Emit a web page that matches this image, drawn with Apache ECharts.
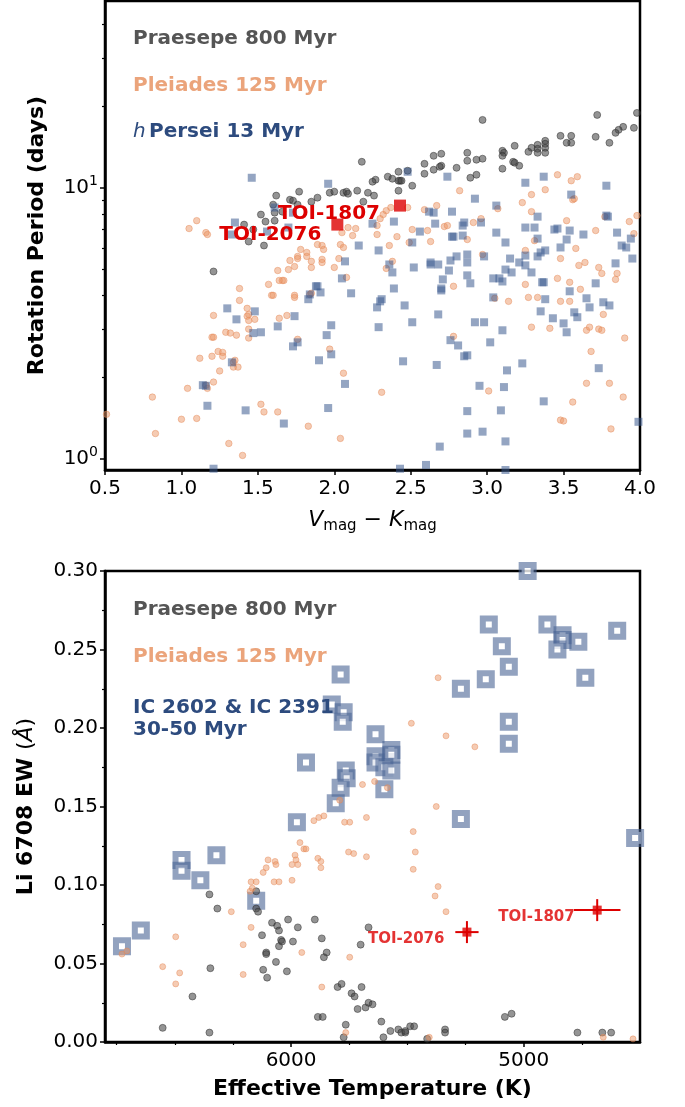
<!DOCTYPE html>
<html><head><meta charset="utf-8">
<script src="https://cdn.jsdelivr.net/npm/echarts@6/dist/echarts.min.js"></script>
<style>html,body{margin:0;padding:0;background:#fff}#c{width:685px;height:1107px}</style>
</head><body><div id="c"></div>
<script>
// ---------- Top panel: rotation period vs V-K ----------
const praesepeTop = [[2.18,12.46],[1.62,9.35],[1.77,9.67],[1.71,9.03],[1.73,8.96],[1.85,8.88],[1.89,9.19],[1.97,9.58],[2.00,9.67],[2.06,9.58],[2.08,9.67],[2.09,9.50],[2.15,9.75],[2.22,9.58],[1.60,8.66],[1.76,8.66],[1.52,7.96],[1.61,8.09],[1.66,8.16],[1.61,7.56],[1.55,7.50],[1.41,7.31],[1.47,7.01],[2.19,8.88],
[2.97,17.78],[3.72,18.55],[3.98,18.87],[3.89,16.76],[3.86,16.34],[3.84,15.93],[3.96,16.62],[3.71,15.40],[3.80,14.64],[3.48,15.53],[3.55,15.53],[3.55,14.64],[3.52,14.64],[3.38,14.89],[3.38,14.52],[3.38,14.03],[3.38,13.45],[3.33,14.39],[3.33,13.91],[3.29,14.03],[3.27,13.56],[3.33,13.45],[3.18,14.27],[3.10,13.68],[3.11,13.45],[3.10,13.11],[3.17,12.46],[3.18,12.36],[3.21,12.05],[3.10,11.75],[2.97,12.79],[2.93,12.68],[2.87,12.57],[2.87,13.45],[2.70,13.34],[2.65,13.11],[2.70,12.05],[2.69,11.94],[2.65,11.65],[2.59,12.25],[2.59,11.26],[2.80,11.84],[2.93,11.16],[2.89,10.88],[2.51,10.17],[2.42,11.45],[2.43,10.61],[2.42,10.61],[2.44,10.61],[2.35,10.98],[2.38,10.79],[2.27,10.70],[2.25,10.52],[2.48,11.55],[2.42,9.75],[2.26,9.35],[1.44,6.33],[1.54,6.12],[1.21,4.91]];
const pleiadesTop = [[1.10,7.56],[1.05,7.07],[1.16,6.83],[2.09,7.13],[2.14,7.07],[2.12,6.66],[2.05,6.83],[2.82,9.75],[3.46,11.16],[3.55,10.61],[3.59,10.98],[3.38,9.83],[3.29,9.43],[3.23,8.81],[3.56,9.03],[3.57,9.11],[2.67,8.59],[2.59,8.30],[3.07,8.37],[3.29,8.16],[2.96,7.69],[2.91,7.44],[3.52,7.56],[3.77,7.82],[3.93,7.50],[3.98,7.89],[2.51,7.01],[2.61,6.95],[2.72,7.19],[2.74,7.25],[3.71,6.95],[2.41,6.60],[2.28,6.72],[2.48,8.45],[2.37,8.45],[2.34,8.23],[2.32,7.96],[2.30,7.69],[2.28,7.25],[1.17,6.72],[2.04,6.17],[2.06,6.02],[1.89,6.17],[1.92,6.12],[1.93,5.92],[1.78,5.92],[1.76,5.58],[1.76,5.48],[1.82,5.77],[1.82,5.58],[1.71,5.39],[1.74,5.12],[1.70,4.99],[1.85,5.35],[1.85,5.08],[1.92,5.44],[1.92,5.30],[2.03,5.48],[2.00,5.08],[1.63,4.95],[1.64,4.55],[1.66,4.55],[1.67,4.55],[1.57,4.40],[1.38,4.25],[1.59,4.01],[1.60,4.01],[1.74,4.01],[1.74,3.94],[1.85,4.08],[1.84,4.04],[1.38,3.84],[1.43,3.59],[1.44,3.41],[1.43,3.36],[1.48,3.27],[1.44,3.24],[1.21,3.38],[1.64,3.30],[1.69,3.38],[1.44,3.01],[1.29,2.93],[1.32,2.91],[1.36,2.86],[1.20,2.81],[1.21,2.81],[1.44,2.79],[1.76,2.76],[1.97,2.54],[2.08,4.67],[1.12,2.35],[1.24,2.49],[1.27,2.47],[1.27,2.39],[1.20,2.39],[1.35,2.31],[1.34,2.27],[1.34,2.18],[1.37,2.18],[1.25,2.11],[2.06,2.07],[1.21,1.92],[1.04,1.82],[1.16,1.87],[1.17,1.82],[0.81,1.69],[1.52,1.59],[1.54,1.49],[1.63,1.49],[1.00,1.40],[1.10,1.41],[0.51,1.46],[0.83,1.24],[1.83,1.32],[1.31,1.14],[2.04,1.19],[1.40,1.03],[2.49,6.28],[2.63,6.33],[2.36,6.12],[2.87,6.44],[3.31,6.38],[3.96,6.77],[2.38,5.35],[2.34,5.04],[2.97,5.67],[3.25,5.87],[3.48,5.48],[3.58,5.97],[3.60,5.17],[3.64,5.30],[3.73,5.08],[3.75,4.83],[3.85,4.83],[3.84,4.59],[2.78,4.33],[3.14,3.81],[3.25,4.40],[3.27,3.94],[3.33,3.94],[3.46,4.63],[3.54,4.48],[3.61,4.22],[3.48,3.81],[3.54,3.81],[3.05,3.91],[3.76,3.41],[3.29,3.06],[3.41,3.03],[3.65,2.98],[3.67,3.06],[3.73,3.01],[3.75,2.98],[3.90,2.79],[2.78,2.83],[3.68,2.49],[2.31,1.76],[3.01,1.78],[3.65,1.90],[3.80,1.90],[3.89,1.69],[3.56,1.62],[3.48,1.39],[3.50,1.38],[3.81,1.29]];
const hPerseiTop = [[1.46,10.88],[1.96,10.34],[1.61,8.45],[1.35,7.44],[1.33,6.72],[1.56,6.89],[1.70,7.13],[1.73,8.09],[2.48,11.45],[2.74,10.98],[3.25,10.43],[3.37,10.98],[3.78,10.17],[3.55,9.43],[2.92,9.11],[3.06,8.59],[2.77,8.16],[2.62,8.16],[2.65,8.09],[3.33,7.82],[3.78,7.89],[3.79,7.82],[2.39,7.50],[2.66,7.37],[2.85,7.44],[2.84,7.25],[2.96,7.44],[2.56,6.89],[3.06,6.83],[3.25,7.13],[3.31,7.13],[3.44,7.01],[3.46,7.07],[3.54,6.95],[3.63,6.72],[3.85,6.83],[2.77,6.60],[2.78,6.60],[2.84,6.66],[2.25,7.37],[2.16,6.12],[2.07,5.35],[2.05,4.63],[2.11,4.08],[1.88,4.33],[1.89,4.33],[1.91,4.11],[1.84,4.04],[1.83,3.88],[1.30,3.59],[1.48,3.50],[1.36,3.27],[1.74,3.36],[1.63,3.08],[1.98,3.11],[1.95,2.86],[1.52,2.93],[1.47,2.91],[1.76,2.69],[1.73,2.60],[1.98,2.43],[1.90,2.31],[1.33,2.27],[1.14,1.87],[1.16,1.86],[2.07,1.89],[1.17,1.57],[1.42,1.51],[1.96,1.54],[1.67,1.35],[1.21,0.92],[3.12,6.28],[2.29,5.87],[2.51,6.28],[2.36,5.21],[2.38,4.87],[2.52,5.08],[2.63,5.30],[2.63,5.21],[2.68,5.21],[2.76,5.39],[2.80,5.58],[2.75,4.95],[2.87,5.67],[2.87,5.30],[2.98,5.58],[2.71,4.59],[2.87,4.75],[2.89,4.44],[2.39,4.25],[2.70,4.25],[2.70,4.18],[3.04,4.63],[3.08,4.63],[3.10,4.51],[3.12,4.99],[3.16,4.87],[3.15,5.48],[3.21,5.30],[3.25,5.17],[3.25,5.62],[3.33,5.58],[3.35,5.77],[3.38,5.87],[3.33,6.49],[3.29,4.87],[3.37,4.48],[3.36,4.48],[3.52,6.44],[3.48,6.02],[3.94,6.49],[3.88,6.12],[3.91,6.02],[3.95,5.48],[3.84,5.26],[3.71,4.44],[3.54,4.15],[3.65,3.91],[3.38,3.88],[3.76,3.78],[3.80,3.68],[3.67,3.62],[3.57,3.47],[3.59,3.33],[3.43,3.30],[3.35,3.50],[3.50,3.16],[3.52,2.93],[2.31,3.88],[2.30,3.81],[2.28,3.62],[2.46,3.68],[2.29,3.06],[2.51,3.19],[2.68,3.41],[2.92,3.19],[2.98,3.19],[3.04,3.94],[3.10,2.98],[2.76,2.74],[2.81,2.62],[3.02,2.69],[2.85,2.39],[2.87,2.41],[2.45,2.29],[2.67,2.22],[3.13,2.12],[3.23,2.25],[2.95,1.86],[3.11,1.84],[3.37,1.63],[3.73,2.16],[2.87,1.50],[3.09,1.51],[2.87,1.24],[2.97,1.26],[3.12,1.16],[2.69,1.11],[2.60,0.95],[2.43,0.92],[3.12,0.91],[3.99,1.37]];
const toiNames = ['TOI-1807','TOI-2076'];
const toiVK = [2.43, 2.02];
const toiPeriod = [8.59, 7.31];
const periodMajor = [1,10];
const periodMinor = [2,3,4,5,6,7,8,9,20,30,40];

// ---------- Bottom panel: Li EW vs Teff ----------
const icLi = [[5787,0.234],[5825,0.215],[5774,0.210],[5778,0.204],[5936,0.178],[5765,0.173],[5761,0.168],[5787,0.162],[5808,0.152],[4983,0.300],[5150,0.266],[4898,0.266],[4833,0.259],[4833,0.256],[4855,0.250],[4765,0.255],[4598,0.262],[5094,0.252],[5064,0.239],[5163,0.231],[5270,0.225],[4735,0.232],[5064,0.204],[5064,0.190],[5637,0.196],[5569,0.186],[5569,0.183],[5637,0.182],[5637,0.178],[5599,0.175],[5569,0.173],[5599,0.161],[5975,0.140],[6321,0.119],[6471,0.116],[6471,0.109],[6390,0.103],[6150,0.090],[6646,0.071],[6727,0.061],[5270,0.142],[4521,0.130]];
const pleiadesLi = [[5693,0.164],[5791,0.154],[5368,0.232],[5483,0.203],[5334,0.195],[5210,0.188],[5641,0.166],[5586,0.162],[5376,0.150],[5902,0.141],[5881,0.143],[5859,0.144],[5770,0.140],[5748,0.140],[5676,0.143],[5962,0.127],[5945,0.123],[5936,0.123],[5983,0.119],[5979,0.116],[5971,0.113],[5996,0.113],[6099,0.116],[6107,0.111],[6120,0.108],[6069,0.115],[6065,0.113],[5885,0.117],[5872,0.115],[5872,0.111],[5753,0.121],[5731,0.120],[5676,0.118],[5996,0.103],[6073,0.102],[6052,0.102],[6172,0.102],[6150,0.102],[6176,0.096],[6167,0.098],[6257,0.083],[6172,0.073],[6496,0.067],[6206,0.062],[5954,0.057],[5748,0.054],[6706,0.058],[6727,0.056],[6552,0.048],[6479,0.044],[6496,0.037],[6206,0.043],[5868,0.035],[5765,0.006],[5475,0.134],[5466,0.121],[5475,0.110],[5368,0.099],[5381,0.093],[5334,0.083],[5406,0.003],[4658,0.003],[4530,0.002]];
const praesepeLi = [[6150,0.096],[6351,0.094],[6317,0.085],[6150,0.085],[6142,0.083],[6082,0.076],[6060,0.074],[6052,0.071],[6013,0.078],[5971,0.073],[5898,0.078],[6125,0.068],[6043,0.065],[6052,0.061],[6039,0.064],[5992,0.064],[5868,0.066],[6107,0.057],[6107,0.056],[5847,0.057],[5859,0.054],[6065,0.051],[6347,0.047],[6120,0.046],[6103,0.041],[6018,0.045],[5701,0.062],[5667,0.073],[5800,0.035],[5783,0.037],[5697,0.035],[6424,0.029],[5740,0.031],[5727,0.029],[5714,0.021],[5680,0.022],[5667,0.025],[5885,0.016],[5864,0.016],[5765,0.011],[5774,0.003],[6552,0.009],[6351,0.006],[5650,0.024],[5612,0.013],[5573,0.007],[5539,0.008],[5526,0.006],[5509,0.006],[5509,0.007],[5488,0.010],[5471,0.010],[5603,0.003],[5415,0.002],[5338,0.008],[5338,0.006],[5081,0.016],[5052,0.018],[4769,0.006],[4662,0.006],[4624,0.006]];
const toiTeff = [4684, 5244];
const toiTeffErr = [100, 50];
const toiEW = [0.084, 0.070];
const toiEWErr = [0.007, 0.007];
const teffMajor = [5000, 6000];
const teffMinor = [4750, 5250, 5500, 5750, 6250, 6500, 6750];

// ---------- styles ----------
const F = 'DejaVu Sans';
const RED = '#DD0000';
const GRAY = 'rgba(70,70,70,0.72)';
const GRAY_E = 'rgba(40,40,40,0.75)';
const ORANGE = 'rgba(234,150,102,0.62)';
const ORANGE_E = 'rgba(228,135,85,0.7)';
const BLUE = 'rgba(58,88,142,0.68)';
const tickLbl = {fontFamily: F, fontSize: 20, color: '#000'};
const lineS = {show: true, lineStyle: {color: '#000', width: 2.5}};
const noBorder = {textBorderWidth: 0, textBorderColor: 'transparent', textShadowBlur: 0};

const chart = echarts.init(document.getElementById('c'), null, {renderer: 'canvas'});
const option = {
  animation: false,
  backgroundColor: '#fff',
  grid: [
    {left: 105, top: 1, width: 535, height: 469, show: true, borderColor: '#000', borderWidth: 2.5, backgroundColor: 'transparent'},
    {left: 105, top: 571, width: 535, height: 471, show: true, borderColor: '#000', borderWidth: 2.5, backgroundColor: 'transparent'}
  ],
  xAxis: [
    {gridIndex: 0, type: 'value', position: 'bottom', min: 0.5, max: 4, interval: 0.5,
     axisLine: lineS, splitLine: {show: false},
     axisTick: {length: 5, lineStyle: {color: '#000', width: 1.5}},
     axisLabel: Object.assign({margin: 9, formatter: v => v.toFixed(1)}, tickLbl),
     name: '{i|V}{s|mag}{n| − }{i|K}{s|mag}', nameLocation: 'middle', nameGap: 37,
     nameTextStyle: {rich: {
       i: {fontFamily: F, fontStyle: 'italic', fontSize: 22, color: '#000'},
       n: {fontFamily: F, fontSize: 22, color: '#000'},
       s: {fontFamily: F, fontSize: 15, color: '#000', padding: [12, 0, 0, 0]}}}},
    {gridIndex: 1, type: 'value', position: 'bottom', inverse: true, min: 4500, max: 6800,
     axisLine: lineS, splitLine: {show: false},
     axisTick: {customValues: teffMajor, length: 5, lineStyle: {color: '#000', width: 1.5}},
     axisLabel: Object.assign({customValues: teffMajor, margin: 9, formatter: v => String(Math.round(v))}, tickLbl),
     name: 'Effective Temperature (K)', nameLocation: 'middle', nameGap: 36,
     nameTextStyle: {fontFamily: F, fontWeight: 'bold', fontSize: 22, color: '#000'}},
    {gridIndex: 1, type: 'value', position: 'bottom', inverse: true, min: 4500, max: 6800,
     axisLine: {show: false}, splitLine: {show: false},
     axisTick: {customValues: teffMinor, length: 3, lineStyle: {color: '#000', width: 1.2}},
     axisLabel: {show: false}}
  ],
  yAxis: [
    {gridIndex: 0, type: 'log', logBase: 10, position: 'left', min: 0.91, max: 48.8,
     axisLine: lineS, splitLine: {show: false}, minorTick: {show: false},
     axisTick: {customValues: periodMajor, length: 5, lineStyle: {color: '#000', width: 1.5}},
     axisLabel: Object.assign({customValues: periodMajor, margin: 7,
       formatter: v => '10{s|' + Math.round(Math.log10(v)) + '}',
       rich: {s: {fontFamily: F, fontSize: 14, color: '#000', padding: [0, 0, 13, 0]}}}, tickLbl),
     name: 'Rotation Period (days)', nameLocation: 'middle', nameGap: 57,
     nameTextStyle: {fontFamily: F, fontWeight: 'bold', fontSize: 22, color: '#000'}},
    {gridIndex: 0, type: 'log', logBase: 10, position: 'left', min: 0.91, max: 48.8,
     axisLine: {show: false}, splitLine: {show: false},
     axisTick: {customValues: periodMinor, length: 3, lineStyle: {color: '#000', width: 1.2}},
     axisLabel: {show: false}},
    {gridIndex: 1, type: 'value', position: 'left', min: 0, max: 0.3, interval: 0.05,
     axisLine: lineS, splitLine: {show: false},
     axisTick: {length: 5, lineStyle: {color: '#000', width: 1.5}},
     minorTick: {show: true, splitNumber: 2, length: 3, lineStyle: {color: '#000', width: 1.2}},
     axisLabel: Object.assign({margin: 7, formatter: v => v.toFixed(2)}, tickLbl),
     name: '{b|Li 6708 EW }{n|(}{a|Å}{n|)}', nameLocation: 'middle', nameGap: 68,
     nameTextStyle: {rich: {
       b: {fontFamily: F, fontWeight: 'bold', fontSize: 22, color: '#000'},
       n: {fontFamily: F, fontSize: 22, color: '#000'},
       a: {fontFamily: F, fontStyle: 'italic', fontSize: 22, color: '#000'}}}}
  ],
  series: [
    {type: 'scatter', xAxisIndex: 0, yAxisIndex: 0, data: praesepeTop, symbol: 'circle', symbolSize: 7,
     itemStyle: {color: GRAY, borderColor: GRAY_E, borderWidth: 0.8}},
    {type: 'scatter', xAxisIndex: 0, yAxisIndex: 0, data: pleiadesTop, symbol: 'circle', symbolSize: 6.5,
     itemStyle: {color: ORANGE, borderColor: ORANGE_E, borderWidth: 0.8}},
    {type: 'scatter', xAxisIndex: 0, yAxisIndex: 0, data: hPerseiTop, symbol: 'rect', symbolSize: 8,
     itemStyle: {color: BLUE}},
    {type: 'scatter', xAxisIndex: 0, yAxisIndex: 0, symbol: 'rect', symbolSize: 12, z: 10, zlevel: 1,
     itemStyle: {color: RED},
     data: toiNames.map((n, i) => ({name: n, value: [toiVK[i], toiPeriod[i]],
       label: {distance: i === 0 ? 14 : 10, offset: [0, i === 0 ? 8 : 10]}})),
     label: Object.assign({show: true, position: 'left', formatter: '{b}', fontFamily: F, fontWeight: 'bold', fontSize: 20, color: RED, opacity: 1}, noBorder)},

    {type: 'scatter', xAxisIndex: 1, yAxisIndex: 2, data: icLi, symbol: 'rect', symbolSize: 12,
     itemStyle: {color: '#fff', borderColor: 'rgba(74,100,148,0.75)', borderWidth: 6}},
    {type: 'scatter', xAxisIndex: 1, yAxisIndex: 2, data: praesepeLi, symbol: 'circle', symbolSize: 7,
     itemStyle: {color: GRAY, borderColor: GRAY_E, borderWidth: 0.8}},
    {type: 'scatter', xAxisIndex: 1, yAxisIndex: 2, data: pleiadesLi, symbol: 'circle', symbolSize: 6,
     itemStyle: {color: ORANGE, borderColor: ORANGE_E, borderWidth: 0.8}},
    {type: 'custom', xAxisIndex: 1, yAxisIndex: 2, z: 5,
     data: toiTeff.map((t, i) => [t, toiEW[i], toiTeffErr[i], toiEWErr[i]]),
     encode: {x: 0, y: 1},
     renderItem: (params, api) => {
       const x = api.value(0), y = api.value(1), xe = api.value(2), ye = api.value(3);
       const a = api.coord([x - xe, y]), b = api.coord([x + xe, y]);
       const c = api.coord([x, y - ye]), d = api.coord([x, y + ye]);
       const st = {stroke: RED, lineWidth: 2};
       return {type: 'group', children: [
         {type: 'line', shape: {x1: a[0], y1: a[1], x2: b[0], y2: b[1]}, style: st},
         {type: 'line', shape: {x1: c[0], y1: c[1], x2: d[0], y2: d[1]}, style: st}]};
     }},
    {type: 'scatter', xAxisIndex: 1, yAxisIndex: 2, symbol: 'rect', symbolSize: 9, z: 10, zlevel: 1,
     itemStyle: {color: RED},
     data: toiNames.map((n, i) => ({name: n, value: [toiTeff[i], toiEW[i]]})),
     label: Object.assign({show: true, position: 'left', distance: 18, offset: [0, 7], formatter: '{b}',
       fontFamily: F, fontWeight: 'bold', fontSize: 15, color: RED}, noBorder)}
  ],
  graphic: [
    {type: 'text', left: 133, top: 29, z: 10, style: {text: 'Praesepe 800 Myr', font: 'bold 20px "DejaVu Sans"', fill: '#555555'}},
    {type: 'text', left: 133, top: 76, z: 10, style: {text: 'Pleiades 125 Myr', font: 'bold 20px "DejaVu Sans"', fill: '#EBA47B'}},
    {type: 'text', left: 133, top: 122, z: 10, style: {text: '{i|h} {b|Persei 13 Myr}',
      rich: {i: {font: 'italic 20px "DejaVu Sans"', fill: '#2D4B7E'}, b: {font: 'bold 20px "DejaVu Sans"', fill: '#2D4B7E'}}}},
    {type: 'text', left: 133, top: 600, z: 10, style: {text: 'Praesepe 800 Myr', font: 'bold 20px "DejaVu Sans"', fill: '#555555'}},
    {type: 'text', left: 133, top: 647, z: 10, style: {text: 'Pleiades 125 Myr', font: 'bold 20px "DejaVu Sans"', fill: '#EBA47B'}},
    {type: 'text', left: 133, top: 697, z: 10, style: {text: 'IC 2602 & IC 2391\n30-50 Myr', font: 'bold 20px "DejaVu Sans"', lineHeight: 22, fill: '#2D4B7E'}}
  ]
};
chart.setOption(option);
</script>
</body></html>
